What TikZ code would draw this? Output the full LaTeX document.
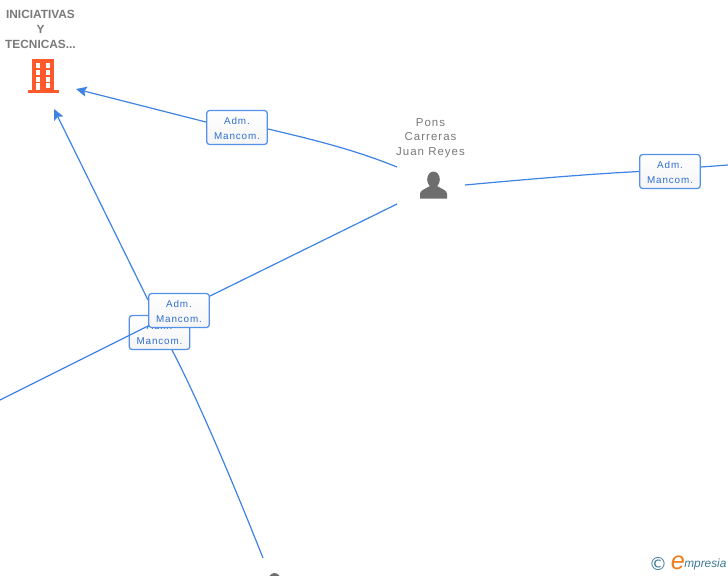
\documentclass[tikz,border=0pt]{standalone}
\usepackage{fontspec}
\setmainfont{Liberation Sans}
\newfontfamily\spaced[LetterSpace=9]{Liberation Sans}
\newfontfamily\logofont{Liberation Sans}
\newfontfamily\symfont{DejaVu Sans}
\usetikzlibrary{arrows.meta}
\definecolor{linkblue}{HTML}{3F83E6}
\definecolor{boxedge}{HTML}{5590EA}
\definecolor{boxtext}{HTML}{2F6FD0}
\definecolor{graytext}{HTML}{7A7A7A}
\definecolor{iconorange}{HTML}{FF5A2B}
\definecolor{icongray}{HTML}{6E6E6E}
\definecolor{logoteal}{HTML}{3E7C96}
\definecolor{logoorange}{HTML}{F07D1A}
\tikzset{
  link/.style={draw=linkblue,line width=0.9pt},
  arrowlink/.style={link,-{Stealth[length=8pt,width=7.5pt,inset=1.5pt]}},
  rolebox/.style={draw=boxedge,line width=0.95pt,rounded corners=2.2pt,top color=white,bottom color=white!96!black,
    minimum width=45.5pt,minimum height=25.5pt,inner sep=0pt,
    label={[inner sep=0pt,yshift=-0.8pt,align=center,text=boxtext,font=\spaced\fontsize{7.4pt}{11.2pt}\selectfont]center:Adm.\\Mancom.}},
  personname/.style={inner sep=0pt,align=center,text=graytext,font=\spaced\fontsize{8.6pt}{11.2pt}\selectfont},
  orgname/.style={inner sep=0pt,align=center,text=graytext,font=\bfseries\fontsize{8.9pt}{11.2pt}\selectfont},
}
\begin{document}
\begin{tikzpicture}[x=0.75pt,y=-0.75pt]
\useasboundingbox (0,0) rectangle (728,575);
\begin{scope}
\clip (0,0) rectangle (728,575);
\fill[white] (0,0) rectangle (728,575);
% anchors
\coordinate (buildingTip) at (76,89);
\coordinate (buildingTipB) at (54,109);
\coordinate (personWestA) at (397,167);
\coordinate (personWestB) at (397,204);
\coordinate (personEast) at (465,185);
\coordinate (edgeRight) at (728,165);
\coordinate (edgeLeft) at (0,400);
\coordinate (personSouth) at (263,558);
% organisation
\node[orgname] (org) at (40.5,29.7) {INICIATIVAS\\Y\\TECNICAS...};
\fill[iconorange] (32,59) rectangle (54,90);
\fill[iconorange] (27.7,90) rectangle (59,92.7);
\foreach \yy in {63,70,77,83}{
  \fill[white] (35.7,\yy) rectangle (40.3,\yy+4.6);
  \fill[white] (45.5,\yy) rectangle (50.2,\yy+4.6);
}
\fill[white] (35.7,83) rectangle (40.3,90);
% boxes and links
\node[rolebox] (roleD) at (159.5,332.5) {};
\draw[link] (edgeLeft) -- (148,326);
\draw[link] (172,350) .. controls (196,396) and (228,470) .. (personSouth);
\draw[arrowlink] (148,300) -- (buildingTipB);
\draw[link] (personWestB) -- (210,296);
\node[rolebox] (roleC) at (179,310.5) {};
\node[rolebox] (roleA) at (237,127.5) {};
\draw[arrowlink] (roleA.170) -- (buildingTip);
\draw[link] (personWestA) .. controls (355,150) and (315,140) .. (roleA.east |- 0,129);
\node[rolebox] (roleB) at (670,171.5) {};
\draw[link] (personEast) .. controls (530,179) and (590,174) .. (roleB.west);
\draw[link] (roleB.east |- 0,167) -- (edgeRight);
% person
\node[personname] (person) at (430.5,138.2) {Pons\\Carreras\\Juan Reyes};
\fill[icongray] (433.5,179.5) ellipse (6.3 and 8);
\fill[icongray] (420,198.5) -- (420,194) .. controls (420,190.5) and (424,189.5) .. (430,186) -- (437,186) .. controls (443,189.5) and (447,190.5) .. (447,194) -- (447,198.5) -- cycle;
% lower person, cut by the page edge
\fill[icongray] (274.5,581) ellipse (6.3 and 8);
% logo
\node[inner sep=0pt,text=logoteal,font=\symfont\fontsize{13.5pt}{13pt}\selectfont] (copyr) at (658,564) {©};
\node[inner sep=0pt,text=logoorange,font=\logofont\itshape\fontsize{19pt}{19pt}\selectfont] (logoE) at (678,562.5) {e};
\node[inner sep=0pt,anchor=west,text=logoteal,font=\logofont\itshape\fontsize{8.9pt}{10pt}\selectfont] (logoT) at (684,564.5) {mpresia};
\end{scope}
\end{tikzpicture}
\end{document}
